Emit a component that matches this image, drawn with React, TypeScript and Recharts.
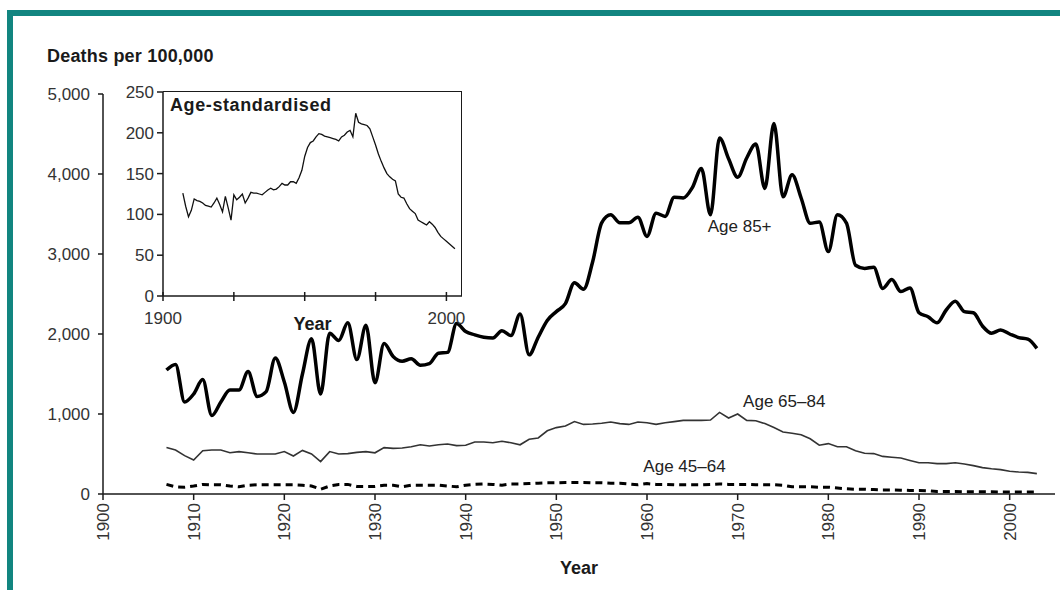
import { Line, LineChart, ReferenceDot, XAxis, YAxis } from 'recharts';

const FIRST_YEAR = 1907;

const age85plus = [
  1550, 1620, 1150, 1250, 1430, 980, 1150, 1300, 1300, 1530,
  1220, 1280, 1700, 1400, 1020, 1500, 1940, 1250, 2010, 1920,
  2140, 1680, 2110, 1390, 1880, 1720, 1660, 1690, 1610, 1630,
  1760, 1770, 2130, 2030, 1990, 1960, 1950, 2040, 1980, 2250,
  1740, 1960, 2170, 2280, 2380, 2640, 2560, 2900, 3390, 3490,
  3390, 3390, 3460, 3220, 3510, 3470, 3710, 3700, 3830, 4070,
  3490, 4450, 4190, 3960, 4200, 4375, 3820, 4630, 3715, 3990,
  3700, 3385, 3400, 3030, 3490, 3385, 2860, 2820, 2835, 2570,
  2680, 2530, 2575, 2265, 2215, 2140, 2300, 2410, 2280, 2265,
  2100, 2010, 2050, 2000, 1955, 1935, 1820
];

const age65to84 = [
  580, 550, 480, 425, 540, 550, 550, 515, 530, 515,
  500, 500, 500, 530, 475, 545, 500, 405, 530, 500,
  505, 520, 530, 515, 580, 570, 575, 590, 615, 600,
  615, 625, 605, 610, 650, 650, 640, 660, 640, 615,
  685, 700, 790, 830, 850, 905, 870, 875, 885, 900,
  880, 870, 900, 890, 870, 890, 905, 920, 920, 920,
  925, 1020, 950, 1000, 920, 915, 880, 830, 775, 760,
  740, 690, 610, 630, 590, 590, 540, 510, 505, 470,
  460, 450, 420, 390, 390, 380, 380, 390, 375, 355,
  330, 315, 305, 285, 275, 270, 255
];

const age45to64 = [
  120, 90, 85, 100, 120, 115, 115, 100, 90, 110,
  115, 115, 115, 115, 115, 110, 100, 60, 100, 120,
  120, 95, 95, 95, 110, 110, 90, 110, 110, 110,
  110, 100, 90, 110, 120, 125, 120, 110, 125, 125,
  130, 135, 140, 140, 145, 145, 145, 140, 140, 135,
  135, 125, 115, 130, 120, 120, 115, 115, 115, 115,
  120, 125, 120, 120, 120, 115, 115, 115, 110, 90,
  90, 90, 85, 85, 75, 65, 60, 60, 55, 50,
  50, 48, 45, 45, 40, 30, 30, 30, 28, 28,
  27, 27, 26, 25, 25, 25, 25
];

const ageStandardised = [
  126, 110, 97, 105, 119, 117, 116, 114, 111, 110,
  109, 114, 120, 112, 103, 122, 108, 93, 124, 118,
  121, 125, 114, 120, 127, 126, 126, 125, 124, 127,
  130, 132, 130, 131, 134, 138, 136, 136, 140, 140,
  138, 145, 154, 171, 182, 188, 190, 195, 199, 198,
  196, 195, 194, 193, 192, 190, 195, 197, 201, 203,
  195, 224, 213, 211, 210, 209, 205, 195, 185, 174,
  165, 157, 150, 146, 143, 141, 125, 121, 120, 113,
  107, 104, 101, 93, 91, 89, 87, 91, 88, 84,
  78, 73, 70, 67, 64, 61, 58
];

const mainYTicks = [0, 1000, 2000, 3000, 4000, 5000];
const mainXTicks = [1900, 1910, 1920, 1930, 1940, 1950, 1960, 1970, 1980, 1990, 2000];
const insetYTicks = [0, 50, 100, 150, 200, 250];
const insetXTicks = [1900, 1925, 1950, 1975, 2000];
const insetXLabels = ['1900', '', '', '', '2000'];

const seriesLabels = [
  { text: 'Age 85+', year: 1966.7, value: 3270 },
  { text: 'Age 65\u201384', year: 1970.6, value: 1090 },
  { text: 'Age 45\u201364', year: 1959.6, value: 280 }
];

const years = age85plus.map((_, i) => FIRST_YEAR + i);

const mainData = years.map((year, i) => ({
  year,
  old: age85plus[i],
  mid: age65to84[i],
  young: age45to64[i]
}));

const insetData = years.map((year, i) => ({ year, rate: ageStandardised[i] }));

const FONT = '"Liberation Sans", Arial, sans-serif';
const INK = '#1a1a1a';

function RotatedTick({ x, y, payload }: any) {
  return (
    <text
      x={x}
      y={y}
      transform={`rotate(-90 ${x} ${y})`}
      textAnchor="end"
      dy="0.36em"
      fill="#333"
      fontSize={17}
      fontFamily={FONT}
    >
      {payload.value}
    </text>
  );
}

function InsetXTick({ x, y, index }: any) {
  const axisY = y - 5;
  return (
    <g>
      <line x1={x} x2={x} y1={axisY - 4} y2={axisY + 5} stroke={INK} strokeWidth={1.5} />
      <text x={x} y={axisY + 28} textAnchor="middle" fill="#333" fontSize={17} fontFamily={FONT}>
        {insetXLabels[index] ?? ''}
      </text>
    </g>
  );
}

function seriesText(text: string) {
  return (props: any) => (
    <text x={props.cx} y={props.cy} fill="#222" fontSize={17} fontFamily={FONT}>
      {text}
    </text>
  );
}

export default function App() {
  return (
    <div style={{ position: 'absolute', left: 0, top: 0, width: 1060, height: 590, background: '#fff', overflow: 'hidden' }}>
      <div
        style={{
          position: 'absolute',
          left: 7,
          top: 10,
          width: 1060,
          height: 600,
          borderTop: '6px solid #128580',
          borderLeft: '6px solid #128580'
        }}
      />
      <div style={{ position: 'absolute', left: 0, top: 0 }}>
        <LineChart width={1060} height={590} data={mainData} margin={{ top: 94, right: 5, left: 43, bottom: 30 }}>
          <XAxis
            dataKey="year"
            type="number"
            domain={[1900, 2005]}
            ticks={mainXTicks}
            allowDataOverflow
            height={66}
            tickSize={6}
            tickMargin={3}
            tick={<RotatedTick />}
            axisLine={{ stroke: INK, strokeWidth: 1.5 }}
            tickLine={{ stroke: INK, strokeWidth: 1.5 }}
            label={{
              value: 'Year',
              position: 'insideBottom',
              offset: -14,
              fill: INK,
              fontSize: 18,
              fontWeight: 'bold',
              fontFamily: FONT
            }}
          />
          <YAxis
            domain={[0, 5000]}
            ticks={mainYTicks}
            width={60}
            tickSize={5}
            tickMargin={8}
            tickFormatter={(v: number) => v.toLocaleString('en-US')}
            tick={{ fill: '#333', fontSize: 17, fontFamily: FONT }}
            axisLine={{ stroke: INK, strokeWidth: 1.5 }}
            tickLine={{ stroke: INK, strokeWidth: 1.5 }}
            label={{
              content: () => (
                <text x={47} y={62} fill={INK} fontSize={18} fontWeight="bold" fontFamily={FONT} letterSpacing={0.2}>
                  Deaths per 100,000
                </text>
              )
            }}
          />
          <Line
            dataKey="old"
            type="monotone"
            stroke="#000"
            strokeWidth={3.5}
            dot={false}
            isAnimationActive={false}
          />
          <Line
            dataKey="mid"
            type="linear"
            stroke="#333"
            strokeWidth={1.6}
            dot={false}
            isAnimationActive={false}
          />
          <Line
            dataKey="young"
            type="linear"
            stroke="#000"
            strokeWidth={3}
            strokeDasharray="7 5"
            dot={false}
            isAnimationActive={false}
          />
          {seriesLabels.map((s) => (
            <ReferenceDot key={s.text} x={s.year} y={s.value} r={0} shape={seriesText(s.text)} />
          ))}
        </LineChart>
      </div>
      <div style={{ position: 'absolute', left: 0, top: 0 }}>
        <LineChart width={480} height={340} data={insetData} margin={{ top: 92, right: 18, left: 103, bottom: 4 }}>
          <XAxis
            dataKey="year"
            type="number"
            domain={[1900, 2005.5]}
            ticks={insetXTicks}
            allowDataOverflow
            height={40}
            tickSize={5}
            tickMargin={0}
            tickLine={false}
            tick={<InsetXTick />}
            axisLine={{ stroke: INK, strokeWidth: 1.5 }}
            label={{
              value: 'Year',
              position: 'insideBottom',
              offset: 6,
              fill: INK,
              fontSize: 18,
              fontWeight: 'bold',
              fontFamily: FONT
            }}
          />
          <YAxis
            domain={[0, 250]}
            ticks={insetYTicks}
            width={60}
            tickSize={6}
            tickMargin={3}
            tick={{ fill: '#333', fontSize: 17, fontFamily: FONT }}
            axisLine={{ stroke: INK, strokeWidth: 1.5 }}
            tickLine={{ stroke: INK, strokeWidth: 1.5 }}
            label={{
              content: () => (
                <text x={170} y={111} fill={INK} fontSize={18} fontWeight="bold" fontFamily={FONT} letterSpacing={0.6}>
                  Age-standardised
                </text>
              )
            }}
          />
          <Line
            dataKey="rate"
            type="linear"
            stroke="#111"
            strokeWidth={1.3}
            dot={false}
            isAnimationActive={false}
          />
        </LineChart>
      </div>
      <div
        style={{
          position: 'absolute',
          left: 163,
          top: 91,
          width: 298,
          height: 204,
          borderTop: '1.5px solid #1a1a1a',
          borderRight: '1.5px solid #1a1a1a',
          pointerEvents: 'none'
        }}
      />
    </div>
  );
}
